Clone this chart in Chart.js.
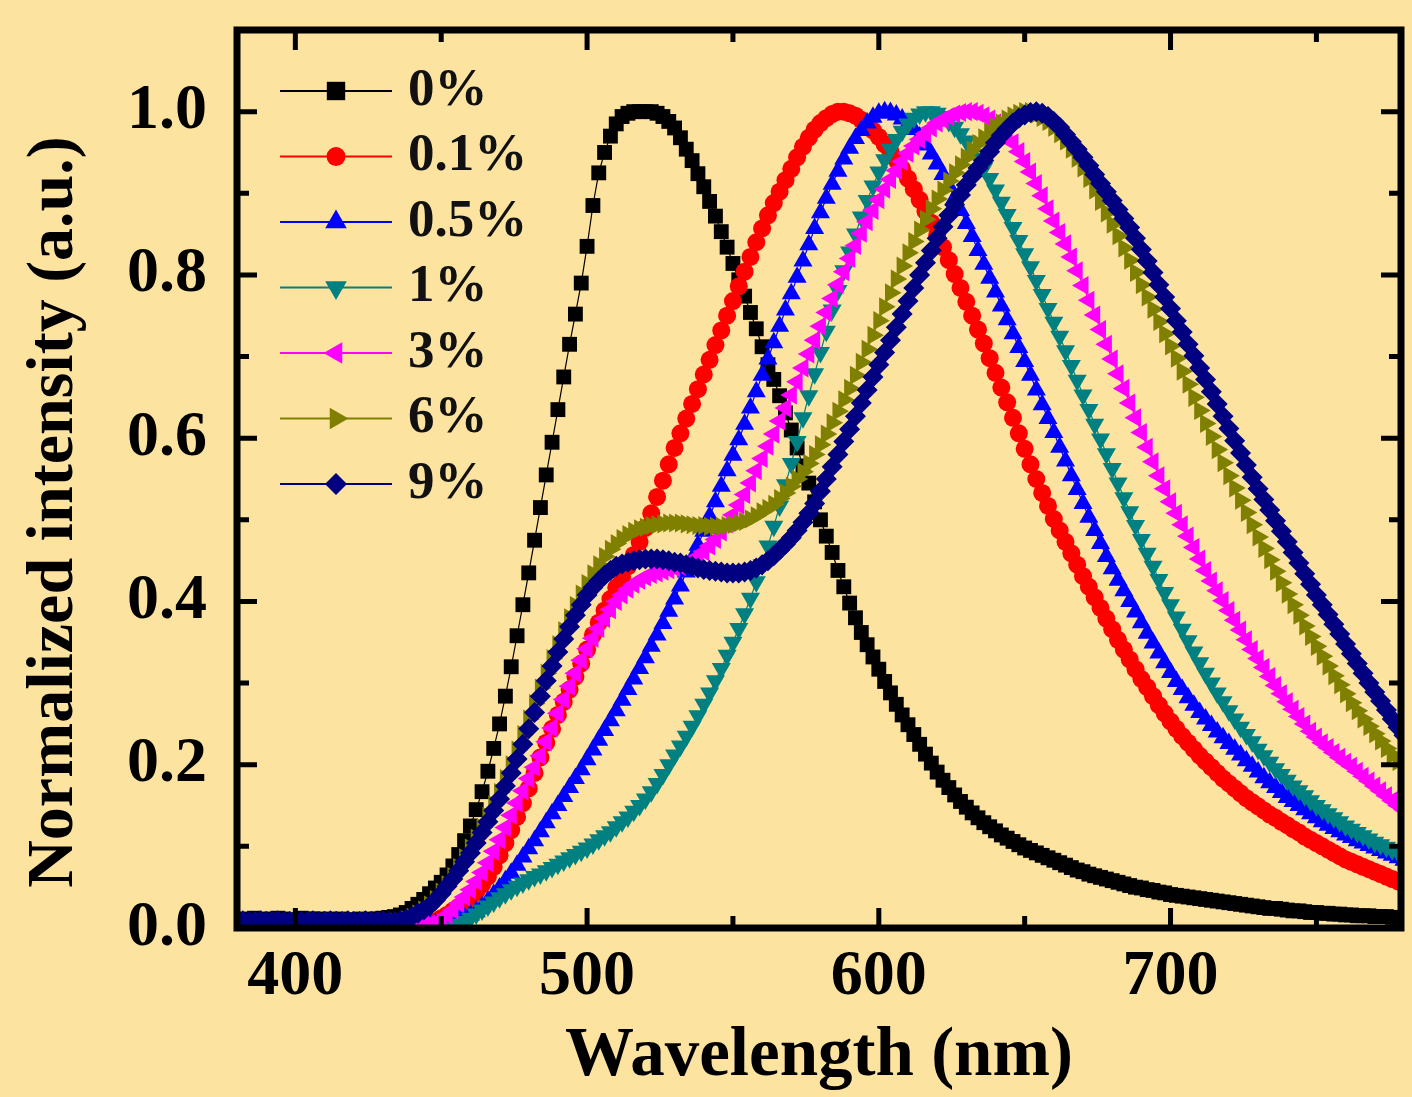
<!DOCTYPE html>
<html>
<head>
<meta charset="utf-8">
<title>Normalized PL spectra</title>
<script src="https://cdn.jsdelivr.net/npm/chart.js@4.4.0/dist/chart.umd.min.js"></script>
<style>
  html, body { margin: 0; padding: 0; background: #fde3a0; }
  #plot { display: block; }
</style>
</head>
<body>
<canvas id="plot" width="1412" height="1097"></canvas>
<script>
// wavelength grid (nm)
var wavelength = [
  380,382,384,386,388,390,392,394,396,398,
  400,402,404,406,408,410,412,414,416,418,
  420,422,424,426,428,430,432,434,436,438,
  440,442,444,446,448,450,452,454,456,458,
  460,462,464,466,468,470,472,474,476,478,
  480,482,484,486,488,490,492,494,496,498,
  500,502,504,506,508,510,512,514,516,518,
  520,522,524,526,528,530,532,534,536,538,
  540,542,544,546,548,550,552,554,556,558,
  560,562,564,566,568,570,572,574,576,578,
  580,582,584,586,588,590,592,594,596,598,
  600,602,604,606,608,610,612,614,616,618,
  620,622,624,626,628,630,632,634,636,638,
  640,642,644,646,648,650,652,654,656,658,
  660,662,664,666,668,670,672,674,676,678,
  680,682,684,686,688,690,692,694,696,698,
  700,702,704,706,708,710,712,714,716,718,
  720,722,724,726,728,730,732,734,736,738,
  740,742,744,746,748,750,752,754,756,758,
  760,762,764,766,768,770,772,774,776,778,
  780
];

var seriesNames = ['0%', '0.1%', '0.5%', '1%', '3%', '6%', '9%'];

// 0 %
var pl0 = [
  .010,.011,.010,.012,.011,.010,.011,.012,.011,.010,
  .010,.012,.011,.011,.011,.010,.011,.010,.011,.010,
  .010,.011,.010,.011,.011,.012,.013,.014,.016,.019,
  .024,.029,.035,.042,.049,.056,.065,.076,.090,.107,
  .125,.145,.167,.192,.220,.250,.284,.320,.358,.396,
  .435,.475,.515,.555,.595,.635,.675,.715,.752,.790,
  .835,.885,.925,.950,.970,.985,.994,.998,1.000,1.000,
  1.000,1.000,.998,.994,.988,.980,.968,.954,.940,.924,
  .908,.890,.872,.853,.834,.814,.794,.774,.754,.734,
  .712,.690,.672,.652,.631,.610,.588,.566,.545,.522,
  .500,.480,.460,.438,.418,.398,.380,.362,.347,.332,
  .317,.302,.288,.274,.261,.249,.237,.225,.213,.202,
  .191,.181,.172,.163,.155,.148,.141,.135,.129,.124,
  .119,.114,.110,.106,.102,.098,.095,.092,.089,.086,
  .083,.080,.077,.074,.071,.069,.066,.064,.062,.060,
  .058,.056,.054,.052,.050,.049,.047,.046,.044,.043,
  .041,.040,.039,.038,.037,.036,.035,.034,.033,.032,
  .031,.030,.029,.028,.027,.026,.025,.024,.024,.023,
  .022,.021,.021,.020,.019,.019,.018,.018,.017,.017,
  .016,.016,.015,.015,.015,.014,.014,.014,.013,.013,
  .012
];

// 0.1 %
var pl01 = [
  .005,.006,.005,.004,.005,.006,.005,.005,.004,.005,
  .005,.004,.005,.006,.005,.005,.004,.005,.005,.006,
  .005,.005,.004,.005,.006,.005,.005,.005,.006,.005,
  .005,.005,.006,.006,.008,.012,.016,.021,.026,.031,
  .037,.044,.053,.063,.075,.089,.104,.120,.136,.153,
  .171,.190,.209,.227,.244,.261,.277,.292,.308,.324,
  .341,.359,.374,.389,.403,.417,.430,.443,.457,.473,
  .490,.508,.528,.548,.568,.588,.606,.624,.642,.660,
  .678,.696,.714,.732,.750,.768,.786,.804,.822,.840,
  .857,.873,.888,.902,.916,.930,.944,.957,.968,.978,
  .986,.992,.997,1.000,1.000,.998,.995,.990,.984,.977,
  .969,.960,.951,.941,.930,.918,.905,.892,.878,.864,
  .849,.834,.818,.801,.784,.767,.750,.733,.716,.698,
  .680,.662,.644,.625,.606,.587,.568,.550,.533,.517,
  .501,.487,.473,.459,.445,.431,.418,.405,.392,.379,
  .366,.353,.341,.329,.317,.305,.295,.284,.273,.263,
  .253,.244,.235,.227,.219,.211,.204,.197,.190,.183,
  .177,.171,.165,.159,.154,.149,.144,.139,.135,.130,
  .126,.121,.117,.112,.108,.104,.100,.096,.092,.088,
  .084,.081,.078,.075,.072,.069,.066,.063,.060,.057,
  .054
];

// 0.5 %
var pl05 = [
  .006,.005,.006,.005,.006,.005,.005,.006,.005,.006,
  .005,.006,.005,.005,.006,.005,.006,.005,.005,.006,
  .005,.006,.005,.005,.006,.005,.005,.006,.005,.005,
  .006,.005,.005,.006,.005,.006,.007,.009,.011,.013,
  .016,.020,.026,.033,.041,.049,.058,.067,.077,.087,
  .097,.107,.118,.129,.140,.150,.161,.172,.183,.194,
  .206,.218,.230,.242,.254,.266,.279,.292,.305,.318,
  .331,.345,.359,.373,.388,.403,.419,.436,.452,.469,
  .486,.504,.522,.541,.560,.579,.598,.617,.637,.657,
  .677,.697,.717,.737,.757,.777,.797,.817,.837,.857,
  .876,.894,.911,.927,.942,.955,.967,.977,.986,.993,
  .998,1.000,.999,.996,.991,.985,.978,.969,.959,.948,
  .936,.923,.909,.894,.879,.863,.847,.830,.813,.796,
  .779,.762,.745,.728,.711,.694,.677,.659,.641,.624,
  .607,.589,.572,.554,.537,.520,.503,.487,.471,.455,
  .440,.426,.413,.400,.387,.374,.361,.349,.337,.325,
  .313,.302,.292,.282,.273,.264,.256,.248,.240,.233,
  .226,.219,.212,.205,.198,.191,.184,.178,.172,.166,
  .160,.155,.150,.145,.140,.135,.130,.126,.122,.118,
  .114,.111,.107,.104,.101,.098,.095,.092,.089,.086,
  .083
];

// 1 %
var pl1 = [
  .004,.005,.004,.004,.005,.004,.004,.005,.004,.004,
  .005,.004,.004,.005,.004,.004,.005,.004,.004,.005,
  .004,.004,.005,.004,.004,.005,.004,.004,.005,.004,
  .004,.005,.004,.004,.005,.004,.004,.004,.005,.008,
  .012,.017,.022,.027,.032,.037,.042,.047,.051,.055,
  .059,.063,.066,.070,.074,.078,.082,.086,.090,.094,
  .098,.103,.108,.113,.118,.124,.130,.136,.143,.150,
  .158,.167,.177,.188,.200,.212,.223,.235,.247,.260,
  .274,.288,.303,.318,.334,.350,.367,.385,.404,.424,
  .445,.468,.492,.517,.543,.569,.596,.625,.652,.679,
  .705,.731,.757,.781,.805,.828,.850,.871,.891,.909,
  .926,.941,.954,.966,.976,.985,.992,.997,1.000,1.000,
  .998,.994,.988,.981,.973,.964,.954,.943,.931,.918,
  .904,.889,.874,.858,.842,.826,.810,.793,.776,.759,
  .742,.725,.707,.689,.671,.653,.635,.617,.599,.581,
  .563,.545,.527,.510,.493,.476,.459,.443,.427,.411,
  .396,.381,.366,.352,.338,.325,.312,.300,.288,.277,
  .266,.256,.246,.237,.228,.219,.211,.203,.195,.188,
  .181,.174,.168,.162,.156,.150,.145,.140,.135,.130,
  .125,.121,.117,.113,.109,.105,.102,.099,.096,.093,
  .090
];

// 3 %
var pl3 = [
  .005,.006,.005,.005,.006,.005,.005,.006,.005,.005,
  .006,.005,.005,.006,.005,.005,.006,.005,.005,.006,
  .005,.005,.006,.005,.005,.006,.005,.005,.006,.005,
  .005,.006,.005,.005,.006,.010,.016,.022,.030,.038,
  .047,.057,.068,.080,.094,.108,.123,.138,.153,.168,
  .183,.197,.211,.228,.245,.263,.280,.296,.312,.328,
  .342,.355,.367,.379,.390,.400,.408,.415,.421,.426,
  .430,.433,.435,.437,.439,.441,.443,.446,.450,.455,
  .461,.468,.476,.485,.495,.506,.518,.531,.545,.560,
  .575,.590,.605,.621,.637,.653,.669,.686,.703,.720,
  .737,.754,.771,.788,.804,.820,.836,.851,.865,.879,
  .892,.905,.917,.928,.939,.949,.958,.966,.973,.980,
  .986,.990,.994,.997,.999,1.000,1.000,.998,.995,.991,
  .986,.979,.971,.962,.951,.939,.926,.912,.897,.881,
  .866,.852,.838,.822,.805,.787,.769,.751,.733,.715,
  .697,.679,.661,.643,.625,.607,.589,.571,.554,.538,
  .522,.508,.494,.480,.466,.452,.438,.425,.413,.401,
  .389,.377,.365,.353,.341,.330,.319,.308,.297,.287,
  .277,.268,.259,.250,.241,.234,.227,.221,.215,.209,
  .203,.198,.192,.186,.180,.174,.168,.162,.156,.150,
  .145
];

// 6 %
var pl6 = [
  .007,.008,.007,.007,.008,.007,.007,.008,.007,.007,
  .008,.007,.007,.008,.007,.007,.008,.007,.007,.008,
  .007,.007,.008,.007,.007,.008,.007,.008,.008,.010,
  .013,.017,.022,.028,.035,.044,.053,.063,.074,.086,
  .098,.110,.123,.137,.151,.166,.183,.200,.218,.237,
  .256,.275,.294,.312,.330,.347,.364,.380,.395,.409,
  .422,.434,.445,.455,.464,.471,.477,.482,.486,.489,
  .491,.493,.494,.495,.496,.496,.496,.495,.494,.493,
  .493,.492,.492,.492,.493,.494,.496,.498,.501,.505,
  .510,.514,.519,.526,.533,.541,.550,.559,.569,.580,
  .592,.605,.619,.633,.647,.661,.677,.693,.709,.726,
  .744,.761,.778,.795,.811,.827,.841,.855,.868,.881,
  .893,.904,.915,.925,.935,.944,.953,.961,.968,.975,
  .981,.986,.991,.995,.998,1.000,1.000,.997,.993,.988,
  .981,.973,.964,.954,.943,.931,.918,.904,.890,.876,
  .862,.848,.833,.818,.803,.788,.773,.758,.743,.728,
  .713,.698,.682,.666,.650,.634,.618,.602,.586,.570,
  .554,.539,.524,.509,.494,.479,.465,.451,.437,.423,
  .409,.396,.383,.370,.357,.345,.333,.321,.309,.298,
  .287,.276,.266,.256,.247,.238,.229,.220,.212,.204,
  .196
];

// 9 %
var pl9 = [
  .008,.009,.008,.008,.009,.008,.008,.009,.008,.008,
  .009,.008,.008,.009,.008,.008,.009,.008,.008,.009,
  .008,.008,.009,.008,.008,.009,.008,.008,.009,.011,
  .014,.018,.022,.027,.034,.042,.051,.060,.070,.081,
  .092,.104,.117,.130,.144,.158,.174,.190,.207,.225,
  .244,.264,.284,.303,.321,.338,.354,.369,.383,.396,
  .408,.417,.425,.432,.438,.443,.446,.448,.450,.451,
  .452,.452,.452,.451,.450,.448,.447,.445,.443,.441,
  .439,.438,.437,.436,.435,.435,.435,.436,.438,.441,
  .445,.450,.456,.463,.470,.478,.487,.497,.508,.520,
  .535,.550,.565,.580,.596,.611,.627,.643,.659,.675,
  .690,.705,.720,.736,.752,.768,.784,.800,.815,.830,
  .845,.859,.873,.886,.898,.910,.921,.931,.940,.951,
  .962,.971,.979,.986,.992,.996,.999,1.000,.998,.994,
  .988,.981,.972,.963,.954,.944,.934,.923,.912,.902,
  .891,.880,.869,.858,.845,.831,.817,.803,.788,.773,
  .759,.744,.730,.715,.701,.686,.672,.657,.642,.627,
  .612,.597,.582,.567,.552,.538,.525,.512,.499,.486,
  .473,.460,.447,.434,.421,.408,.396,.384,.372,.360,
  .348,.336,.324,.312,.300,.289,.278,.267,.256,.246,
  .236
];

var xTickValues = [400, 500, 600, 700];
var xMinorValues = [450, 550, 650, 750];
var yTickValues = [0, 0.2, 0.4, 0.6, 0.8, 1.0];
var yMinorValues = [0.1, 0.3, 0.5, 0.7, 0.9];

var allSeries = [pl0, pl01, pl05, pl1, pl3, pl6, pl9];
var colors = ['#000000', '#ff0000', '#0000ff', '#008080', '#ff00ff', '#808000', '#000080'];
var markers = ['rect', 'circle', 'triangle', 'triangle', 'triangle', 'triangle', 'rectRot'];
var rotations = [0, 0, 0, 180, 270, 90, 0];
var radii = [10.5, 9, 11, 11, 11, 11, 10.5];
var legendRadii = [13, 9.5, 12.5, 12.5, 12.5, 12.5, 11];

var serif = "'Liberation Serif', 'Times New Roman', serif";

var datasets = allSeries.map(function(s, i) {
  return {
    label: seriesNames[i],
    data: wavelength.map(function(w, k) { return {x: w, y: s[k]}; }),
    borderColor: colors[i],
    backgroundColor: colors[i],
    borderWidth: 1.2,
    pointStyle: markers[i],
    pointRotation: rotations[i],
    pointRadius: radii[i],
    pointBorderWidth: 0,
    pointBackgroundColor: colors[i],
    fill: false,
    tension: 0,
    clip: 0,
    order: allSeries.length - 1 - i  // last series drawn on top
  };
});

// legend marker, same shapes as the plot
function drawMarker(ctx, style, rot, r, x, y, color) {
  ctx.save();
  ctx.fillStyle = color;
  ctx.beginPath();
  if (style == 'rect') {
    var h = r * Math.SQRT1_2;
    ctx.rect(x - h, y - h, 2 * h, 2 * h);
  } else if (style == 'circle') {
    ctx.arc(x, y, r, 0, Math.PI * 2);
  } else if (style == 'rectRot') {
    ctx.moveTo(x, y - r); ctx.lineTo(x + r, y); ctx.lineTo(x, y + r); ctx.lineTo(x - r, y);
  } else {
    var a = rot * Math.PI / 180;
    for (var k = 0; k < 3; k++) {
      var px = x + Math.sin(a) * r, py = y - Math.cos(a) * r;
      if (k == 0) ctx.moveTo(px, py); else ctx.lineTo(px, py);
      a += Math.PI * 2 / 3;
    }
  }
  ctx.closePath();
  ctx.fill();
  ctx.restore();
}

var framePlugin = {
  id: 'frame',
  afterDraw: function(chart) {
    var ctx = chart.ctx, a = chart.chartArea;
    var sx = chart.scales.x, sy = chart.scales.y;
    ctx.save();
    ctx.strokeStyle = '#000';
    ctx.lineWidth = 5;
    function tick(vals, len, horiz) {
      vals.forEach(function(v) {
        ctx.beginPath();
        if (horiz) {
          var px = sx.getPixelForValue(v);
          ctx.moveTo(px, a.bottom); ctx.lineTo(px, a.bottom - len);
          ctx.moveTo(px, a.top); ctx.lineTo(px, a.top + len);
        } else {
          var py = sy.getPixelForValue(v);
          ctx.moveTo(a.left, py); ctx.lineTo(a.left + len, py);
          ctx.moveTo(a.right, py); ctx.lineTo(a.right - len, py);
        }
        ctx.stroke();
      });
    }
    tick(xTickValues, 20, true);
    tick(xMinorValues, 12, true);
    tick(yTickValues, 20, false);
    tick(yMinorValues, 12, false);
    ctx.lineWidth = 7;
    ctx.strokeRect(a.left, a.top, a.right - a.left, a.bottom - a.top);

    // legend
    chart.data.datasets.forEach(function(ds, i) {
      var ry = 91 + i * 65.5;
      ctx.strokeStyle = colors[i];
      ctx.lineWidth = 2;
      ctx.beginPath();
      ctx.moveTo(280, ry); ctx.lineTo(392, ry);
      ctx.stroke();
      drawMarker(ctx, markers[i], rotations[i], legendRadii[i], 336, ry, colors[i]);
      ctx.fillStyle = '#111';
      ctx.font = 'bold 53px ' + serif;
      ctx.textAlign = 'left';
      ctx.textBaseline = 'middle';
      ctx.fillText(ds.label, 408, ry);
    });
    ctx.restore();
  }
};

var ctx = document.getElementById('plot').getContext('2d');
var chart = new Chart(ctx, {
  type: 'line',
  data: { datasets: datasets },
  options: {
    responsive: false,
    animation: false,
    layout: { padding: { left: 0, right: 7, top: 30, bottom: 0 } },
    plugins: {
      legend: { display: false },
      tooltip: { enabled: false }
    },
    scales: {
      x: {
        type: 'linear',
        min: 380,
        max: 779,
        afterBuildTicks: function(s) { s.ticks = xTickValues.map(function(v) { return {value: v}; }); },
        afterFit: function(s) { s.height = 169; s.paddingLeft = 0; s.paddingRight = 0; },
        grid: { display: false },
        border: { display: false },
        ticks: {
          color: '#000',
          padding: 3,
          maxRotation: 0,
          font: { family: serif, size: 64, weight: 'bold' }
        },
        title: {
          display: true,
          text: 'Wavelength (nm)',
          color: '#000',
          font: { family: serif, size: 69, weight: 'bold', lineHeight: 1.0 },
          padding: { top: 0, bottom: 5 }
        }
      },
      y: {
        min: 0,
        max: 1.1,
        afterBuildTicks: function(s) { s.ticks = yTickValues.map(function(v) { return {value: v}; }); },
        afterFit: function(s) { s.width = 237; s.paddingTop = 0; s.paddingBottom = 0; },
        grid: { display: false },
        border: { display: false },
        ticks: {
          color: '#000',
          padding: 22,
          font: { family: serif, size: 64, weight: 'bold' },
          callback: function(v) { return v.toFixed(1); }
        },
        title: {
          display: true,
          // trailing spaces nudge the centred title down to where the original sits
          text: 'Normalized intensity (a.u.)    ',
          color: '#000',
          font: { family: serif, size: 66, weight: 'bold', lineHeight: 1.0 },
          padding: { top: 22, bottom: 0 }
        }
      }
    }
  },
  plugins: [framePlugin]
});
</script>
</body>
</html>
